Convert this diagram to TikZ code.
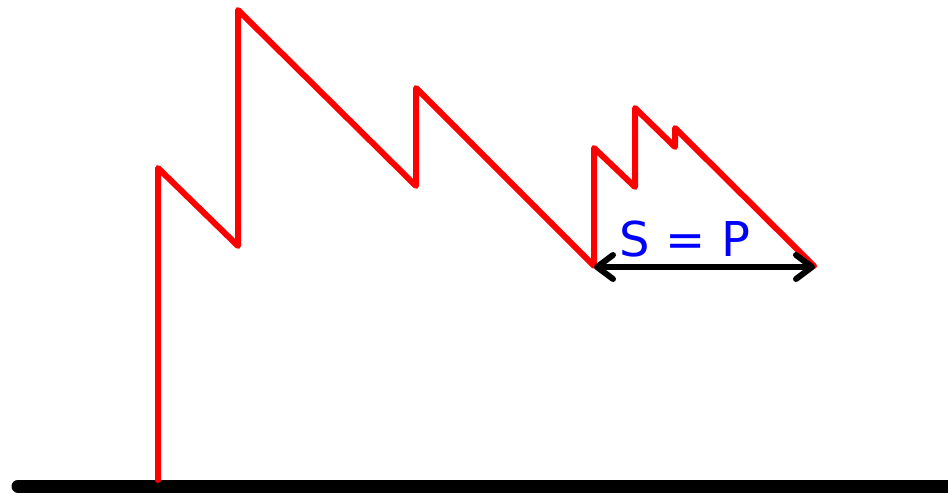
\documentclass[tikz,border=0pt]{standalone}
\usepackage{fontspec}
\setmainfont{DejaVu Sans}
\usetikzlibrary{arrows.meta}
\tikzset{
  saw/.style={draw=red, line width=6pt, line join=round, line cap=round},
  ground/.style={draw=black, line width=13pt, line cap=round},
  span/.style={draw=black, line width=6pt, line cap=round,
    {Straight Barb[length=16pt,width=24pt,line cap=round,line join=round]}-{Straight Barb[length=16pt,width=24pt,line cap=round,line join=round]}},
  lbl/.style={text=blue, font=\fontsize{48}{50}\selectfont, inner sep=0pt}
}
\begin{document}
\begin{tikzpicture}[x=1pt,y=-1pt]
\useasboundingbox (0,0) rectangle (948,494);
\draw[ground] (18,486) -- (970,486);
\draw[saw] (158,480) -- (158,168) -- (238,246) -- (238,10) -- (416,186) -- (416,88)
  -- (594,266) -- (594,148) -- (635,187) -- (635,108) -- (675,147) -- (675,128) -- (814,266);
\coordinate (a) at (594,267);
\coordinate (b) at (815,267);
\draw[span] (a) -- (b);
\node[lbl, anchor=base] (s) at (685,257) {S = P};
\end{tikzpicture}
\end{document}
